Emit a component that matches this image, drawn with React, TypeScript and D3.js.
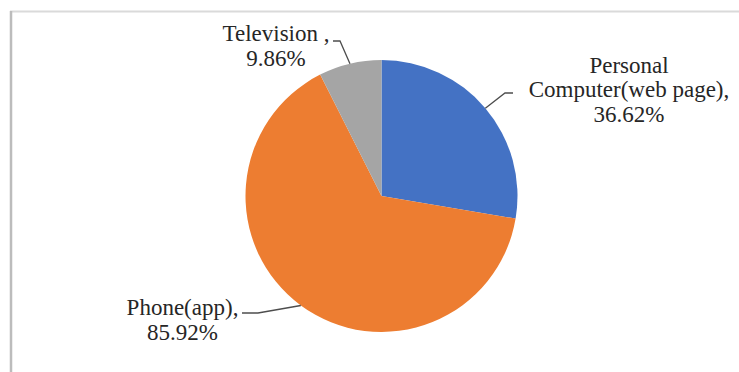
import React from "react";
import * as d3 from "d3";

const categories = ["Personal Computer(web page)", "Phone(app)", "Television "];
const values = [36.62, 85.92, 9.86];
const colors = ["#4472C4", "#ED7D31", "#A5A5A5"];
const labelLines = [
  ["Personal", "Computer(web page),", "36.62%"],
  ["Phone(app),", "85.92%"],
  ["Television ,", "9.86%"],
];

const W = 739;
const H = 372;
const cx = 381.5;
const cy = 196;
const R = 136;

const labelPos = [
  { x: 629, y: 72.7, elbow: [505, 93], end: [513, 93] },
  { x: 182.5, y: 315, elbow: [258, 313], end: [242, 313] },
  { x: 276, y: 41, elbow: [340, 41], end: [333, 41] },
];

const FONT = '"Liberation Serif"';

export default function App() {
  const pie = d3.pie<number>().sort(null).value((d) => d);
  const arcs = pie(values);
  const arcGen = d3.arc<d3.PieArcDatum<number>>().innerRadius(0).outerRadius(R);
  const lineH = 24.5;
  return (
    <svg width={W} height={H} style={{ position: "absolute", left: 0, top: 0 }}>
      <rect x={0} y={0} width={W} height={H} fill="#fff" />
      <line x1={10} y1={11.5} x2={W} y2={11.5} stroke="#dadada" strokeWidth={2} />
      <line x1={11} y1={11} x2={11} y2={H} stroke="#bcbcbc" strokeWidth={2.5} />
      <g transform={`translate(${cx},${cy})`}>
        {arcs.map((a, i) => (
          <path key={categories[i]} d={arcGen(a) || ""} fill={colors[i]} />
        ))}
      </g>
      {arcs.map((a, i) => {
        const mid = (a.startAngle + a.endAngle) / 2;
        const px = cx + R * Math.sin(mid);
        const py = cy - R * Math.cos(mid);
        const lp = labelPos[i];
        return (
          <polyline
            key={"l" + i}
            points={`${px},${py} ${lp.elbow[0]},${lp.elbow[1]} ${lp.end[0]},${lp.end[1]}`}
            fill="none"
            stroke="#4d4d4d"
            strokeWidth={1.3}
          />
        );
      })}
      {labelLines.map((lines, i) =>
        lines.map((s, j) => (
          <text
            key={"t" + i + "-" + j}
            x={labelPos[i].x}
            y={labelPos[i].y + j * lineH}
            textAnchor="middle"
            style={{ fontFamily: FONT, fontSize: "23px" }}
            fill="#262626"
          >
            {s}
          </text>
        ))
      )}
    </svg>
  );
}
